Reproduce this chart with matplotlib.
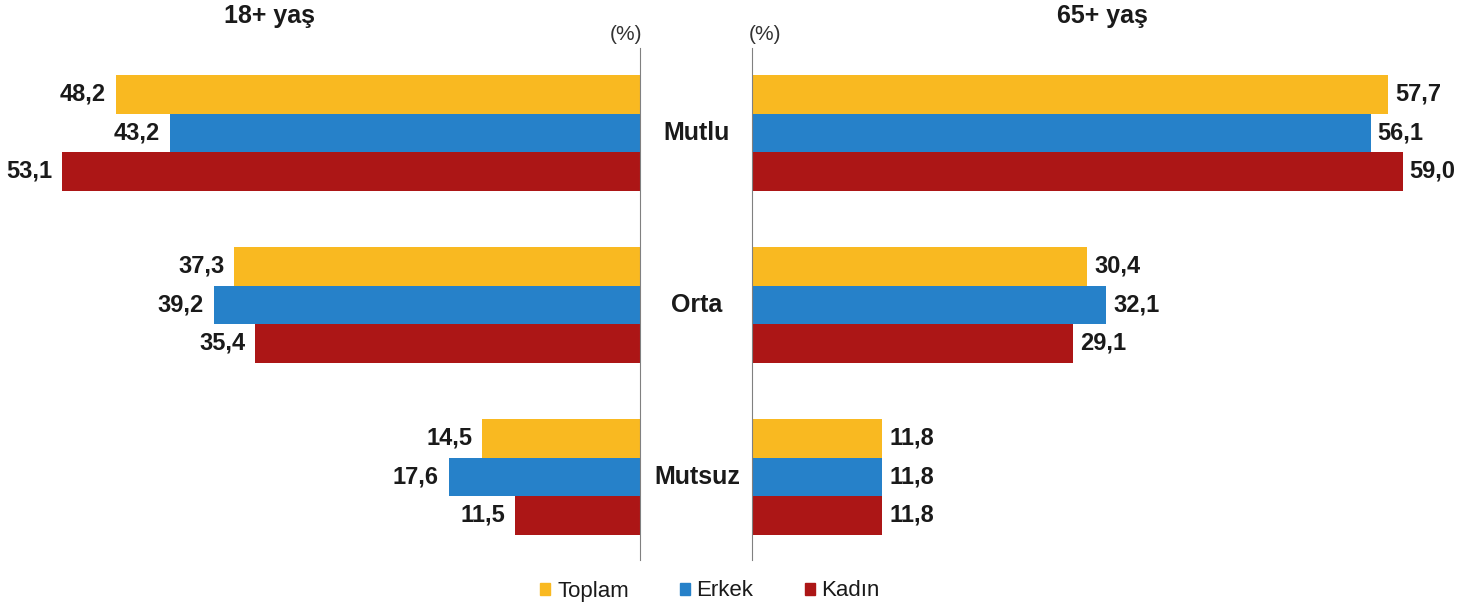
import numpy as np
import matplotlib.pyplot as plt
from matplotlib.patches import Patch

plt.rcParams['font.family'] = ['Liberation Sans', 'DejaVu Sans']

categories = ["Mutlu", "Orta", "Mutsuz"]
series = ["Toplam", "Erkek", "Kadın"]
colors = ["#F9B921", "#2681C9", "#AC1616"]

age18 = {"Toplam": [48.2, 37.3, 14.5],
         "Erkek": [43.2, 39.2, 17.6],
         "Kadın": [53.1, 35.4, 11.5]}
age65 = {"Toplam": [57.7, 30.4, 11.8],
         "Erkek": [56.1, 32.1, 11.8],
         "Kadın": [59.0, 29.1, 11.8]}

W, H = 1471, 611
fig = plt.figure(figsize=(W / 100, H / 100), dpi=100)
txt = "#1a1a1a"

def px_box(x0, x1, y0, y1):
    # pixel box (top-left origin) -> figure fraction
    return [x0 / W, (H - y1) / H, (x1 - x0) / W, (y1 - y0) / H]

ax_l = fig.add_axes(px_box(0, 640, 48, 560))
ax_r = fig.add_axes(px_box(752, W, 48, 560))

bh = 0.224
offsets = [-1, 0, 1]
ypos = np.arange(len(categories))

def fmt(v):
    return f"{v:.1f}".replace(".", ",")

for ax, data, side in [(ax_l, age18, "left"), (ax_r, age65, "right")]:
    for s, off, c in zip(series, offsets, colors):
        vals = data[s]
        ys = ypos + off * bh
        ax.barh(ys, vals, height=bh, color=c)
        for y, v in zip(ys, vals):
            if side == "left":
                ax.annotate(fmt(v), (v, y), xytext=(-7, 0), textcoords="offset points",
                            ha="right", va="center", fontsize=17, fontweight="bold", color=txt)
            else:
                ax.annotate(fmt(v), (v, y), xytext=(5, 0), textcoords="offset points",
                            ha="left", va="center", fontsize=17, fontweight="bold", color=txt)
    ax.set_ylim(2.483, -0.494)
    for sp in ax.spines.values():
        sp.set_visible(False)
    ax.set_xticks([])
    ax.set_yticks([])

ax_l.set_xlim(640 / 10.88, 0)
ax_r.set_xlim(0, 719 / 11.03)
ax_l.spines["right"].set_visible(True)
ax_l.spines["right"].set_color("#808080")
ax_r.spines["left"].set_visible(True)
ax_r.spines["left"].set_color("#808080")

# category labels between the two panels
for cat, y in zip(categories, ypos):
    yp = 48 + (y + 0.494) / (2.483 + 0.494) * 512
    fig.text(697 / W, 1 - yp / H, cat, ha="center", va="center",
             fontsize=18, fontweight="bold", color=txt)

fig.text(269 / W, 1 - 16 / H, "18+ yaş", ha="center", va="center",
         fontsize=18, fontweight="bold", color=txt)
fig.text(1102 / W, 1 - 16 / H, "65+ yaş", ha="center", va="center",
         fontsize=18, fontweight="bold", color=txt)
fig.text(642 / W, 1 - 35 / H, "(%)", ha="right", va="center",
         fontsize=15, color="#333333")
fig.text(749 / W, 1 - 35 / H, "(%)", ha="left", va="center",
         fontsize=15, color="#333333")

handles = [Patch(color=c, label=s) for s, c in zip(series, colors)]
fig.legend(handles=handles, loc="center", bbox_to_anchor=(710 / W, 1 - 591 / H),
           ncol=3, frameon=False, fontsize=16, handlelength=0.45, handleheight=0.45,
           handletextpad=0.3, columnspacing=2.3, labelcolor=txt)

fig.savefig("out.png", dpi=100)
